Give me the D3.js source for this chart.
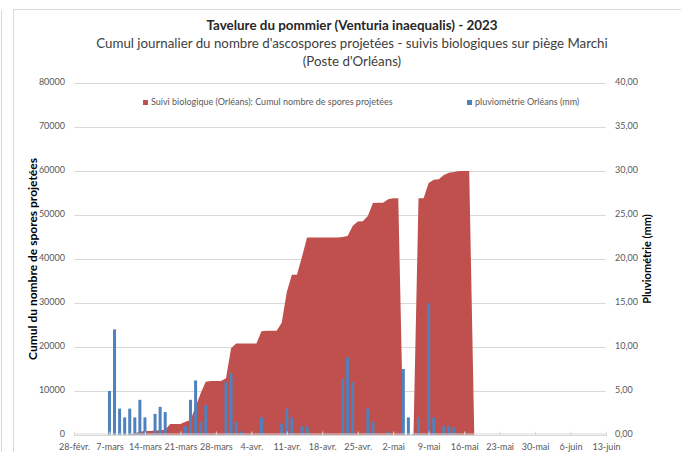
<!DOCTYPE html>
<html>
<head>
<meta charset="utf-8">
<script src="https://cdn.jsdelivr.net/npm/d3@7"></script>
<style>
    body { margin: 0; background: #fff; }
    svg { font-family: Lato, 'Open Sans', sans-serif; }
    .grid line { stroke: #d9d9d9; }
    .tick-label { fill: #595959; font-size: 9px; }
</style>
</head>
<body>
<svg></svg>
<script>
// cumulative spores, one value per day starting at sporeStart
const sporeStart = '2023-03-10';
const sporeCumul = [
    0, 0, 400, 750, 900, 900, 1000, 1100, 1200, 2500,
    2500, 2500, 3000, 3400, 6400, 9500, 12100, 12300, 12300, 12300,
    12900, 19700, 20800, 20800, 20800, 20800, 20800, 23600, 23700, 23700,
    23700, 25500, 32500, 36400, 36400, 40500, 44900, 44900, 44900, 44900,
    44900, 44900, 44900, 45000, 45200, 47500, 48500, 48600, 49800, 52700,
    52800, 52800, 53600, 53800, 53800, 0, 0, 0, 53800, 53800,
    57300, 58000, 58100, 59100, 59600, 59800, 60000, 60000, 60000, 0
];

// daily rainfall (mm)
const rainDates = [
    '2023-03-07', '2023-03-08', '2023-03-09', '2023-03-10', '2023-03-11', '2023-03-12',
    '2023-03-13', '2023-03-14', '2023-03-16', '2023-03-17', '2023-03-18', '2023-03-22',
    '2023-03-23', '2023-03-24', '2023-03-25', '2023-03-26', '2023-03-30', '2023-03-31',
    '2023-04-01', '2023-04-02', '2023-04-06', '2023-04-10', '2023-04-11', '2023-04-12',
    '2023-04-14', '2023-04-15', '2023-04-22', '2023-04-23', '2023-04-24', '2023-04-27',
    '2023-04-28', '2023-05-01', '2023-05-04', '2023-05-05', '2023-05-06', '2023-05-07',
    '2023-05-08', '2023-05-09', '2023-05-10', '2023-05-12', '2023-05-13', '2023-05-14'
];
const rainMm = [
    5.0, 12.0, 3.0, 2.0, 3.0, 2.0,
    4.0, 2.0, 2.4, 3.2, 2.6, 1.0,
    4.0, 6.2, 1.5, 3.4, 6.0, 7.0,
    1.5, 0.4, 2.0, 1.3, 3.0, 2.0,
    1.0, 1.0, 6.4, 8.8, 6.0, 3.0,
    1.5, 0.4, 7.5, 2.0, 0.1, 2.0,
    0.1, 15.0, 2.0, 1.05, 1.0, 0.85
];

const xDomain = ['2023-02-28', '2023-06-13'];
const leftTicks = [0, 10000, 20000, 30000, 40000, 50000, 60000, 70000, 80000];
const rightTicks = [0, 5, 10, 15, 20, 25, 30, 35, 40];
const monthNames = ['janv.', 'févr.', 'mars', 'avr.', 'mai', 'juin'];

const titleText = 'Tavelure du pommier (Venturia inaequalis) - 2023';
const subtitleLines = [
    "Cumul journalier du nombre d'ascospores projetées - suivis biologiques sur piège Marchi",
    "(Poste d'Orléans)"
];
const legendNames = ['Suivi biologique (Orléans): Cumul nombre de spores projetées', 'pluviométrie Orléans (mm)'];

const W = 681, H = 452;
const plot = {l: 74, r: 606, t: 83, b: 435};
const colors = {spores: '#c0504d', rain: '#4f81bd'};

const svg = d3.select('svg')
    .attr('width', W)
    .attr('height', H);

const parse = d3.utcParse('%Y-%m-%d');
const start = parse(sporeStart);
const sporeData = sporeCumul.map((v, i) => ({date: d3.utcDay.offset(start, i), value: v}));
const rainData = rainDates.map((d, i) => ({date: parse(d), value: rainMm[i]}));

const scaleX = d3.scaleUtc()
    .domain(xDomain.map(parse))
    .range([plot.l, plot.r]);
const scaleY = d3.scaleLinear()
    .domain([0, 80000])
    .range([plot.b, plot.t]);
const scaleY2 = d3.scaleLinear()
    .domain([0, 40])
    .range([plot.b, plot.t]);

// chart frame
svg.append('rect')
    .attr('x', 13.5).attr('y', 9.5)
    .attr('width', W).attr('height', H)
    .attr('fill', 'none').attr('stroke', '#d9d9d9');
svg.append('line')
    .attr('x1', 1.5).attr('x2', 1.5).attr('y1', 10).attr('y2', H)
    .attr('stroke', '#d9d9d9');

// titles
svg.append('text')
    .attr('x', 352).attr('y', 27)
    .attr('text-anchor', 'middle').attr('dominant-baseline', 'middle')
    .attr('font-size', 13.4).attr('font-weight', 'bold').attr('fill', '#262626')
    .text(titleText);
svg.selectAll('text.subtitle')
    .data(subtitleLines)
    .enter()
    .append('text')
    .classed('subtitle', true)
    .attr('x', 352).attr('y', (d, i) => 45 + i * 18)
    .attr('text-anchor', 'middle').attr('dominant-baseline', 'middle')
    .attr('font-size', 13.3).attr('fill', '#404040')
    .text(d => d);

// gridlines
const gridG = svg.append('g').classed('grid', true);
gridG.selectAll('line')
    .data(leftTicks)
    .enter()
    .append('line')
    .attr('x1', plot.l).attr('x2', plot.r)
    .attr('y1', d => Math.round(scaleY(d)) + 0.5)
    .attr('y2', d => Math.round(scaleY(d)) + 0.5);

// spores area
const area = d3.area()
    .x(d => scaleX(d.date))
    .y0(scaleY(0))
    .y1(d => scaleY(d.value));
svg.append('path')
    .datum(sporeData)
    .attr('d', area)
    .attr('fill', colors.spores);

// rainfall bars
const barW = 3;
svg.selectAll('rect.rain')
    .data(rainData)
    .enter()
    .append('rect')
    .classed('rain', true)
    .attr('x', d => scaleX(d.date) - barW / 2)
    .attr('width', barW)
    .attr('y', d => scaleY2(d.value))
    .attr('height', d => scaleY2(0) - scaleY2(d.value))
    .attr('fill', colors.rain);

// x axis, one tick a week
const tickDates = d3.range(0, 16).map(i => d3.utcDay.offset(parse(xDomain[0]), i * 7));
const axisX = d3.axisBottom(scaleX)
    .tickValues(tickDates)
    .tickSize(3)
    .tickFormat(d => `${d.getUTCDate()}-${monthNames[d.getUTCMonth()]}`);
const axisXG = svg.append('g')
    .attr('transform', `translate(0, ${plot.b - 1.5})`)
    .call(axisX);
axisXG.select('.domain').attr('stroke', '#d9d9d9');
axisXG.selectAll('.tick line').attr('stroke', '#d9d9d9').attr('y1', -2).attr('y2', 2);
axisXG.selectAll('.tick text')
    .attr('y', 13)
    .attr('dy', '0.35em')
    .attr('font-family', 'Lato, sans-serif')
    .attr('font-size', 9)
    .attr('fill', '#595959');

// left axis labels
svg.selectAll('text.yl')
    .data(leftTicks)
    .enter()
    .append('text')
    .attr('class', 'yl tick-label')
    .attr('x', 65).attr('y', d => scaleY(d))
    .attr('text-anchor', 'end').attr('dominant-baseline', 'middle')
    .text(d => d);

// right axis labels
const fmtRight = d => d.toFixed(2).replace('.', ',');
svg.selectAll('text.yr')
    .data(rightTicks)
    .enter()
    .append('text')
    .attr('class', 'yr tick-label')
    .attr('x', 615).attr('y', d => scaleY2(d))
    .attr('dominant-baseline', 'middle')
    .text(fmtRight);

// axis titles
svg.append('text')
    .attr('transform', `translate(34, ${(plot.t + plot.b) / 2}) rotate(-90)`)
    .attr('text-anchor', 'middle').attr('dominant-baseline', 'middle')
    .attr('font-size', 12).attr('font-weight', 'bold').attr('fill', '#000')
    .text('Cumul du nombre de spores projetées');
svg.append('text')
    .attr('transform', `translate(648, ${(plot.t + plot.b) / 2}) rotate(-90)`)
    .attr('text-anchor', 'middle').attr('dominant-baseline', 'middle')
    .attr('font-size', 11).attr('font-weight', 'bold').attr('fill', '#000')
    .text('Pluviométrie (mm)');

// legend
const legendX = [143, 467];
const legendG = svg.selectAll('g.legend')
    .data(legendNames)
    .enter()
    .append('g')
    .classed('legend', true)
    .attr('transform', (d, i) => `translate(${legendX[i]}, 103)`);
legendG.append('rect')
    .attr('x', 0).attr('y', -3)
    .attr('width', 5).attr('height', 5)
    .attr('fill', (d, i) => i === 0 ? colors.spores : colors.rain);
legendG.append('text')
    .attr('x', 8)
    .attr('dominant-baseline', 'middle')
    .attr('font-size', 9).attr('fill', '#595959')
    .text(d => d);
</script>
</body>
</html>
